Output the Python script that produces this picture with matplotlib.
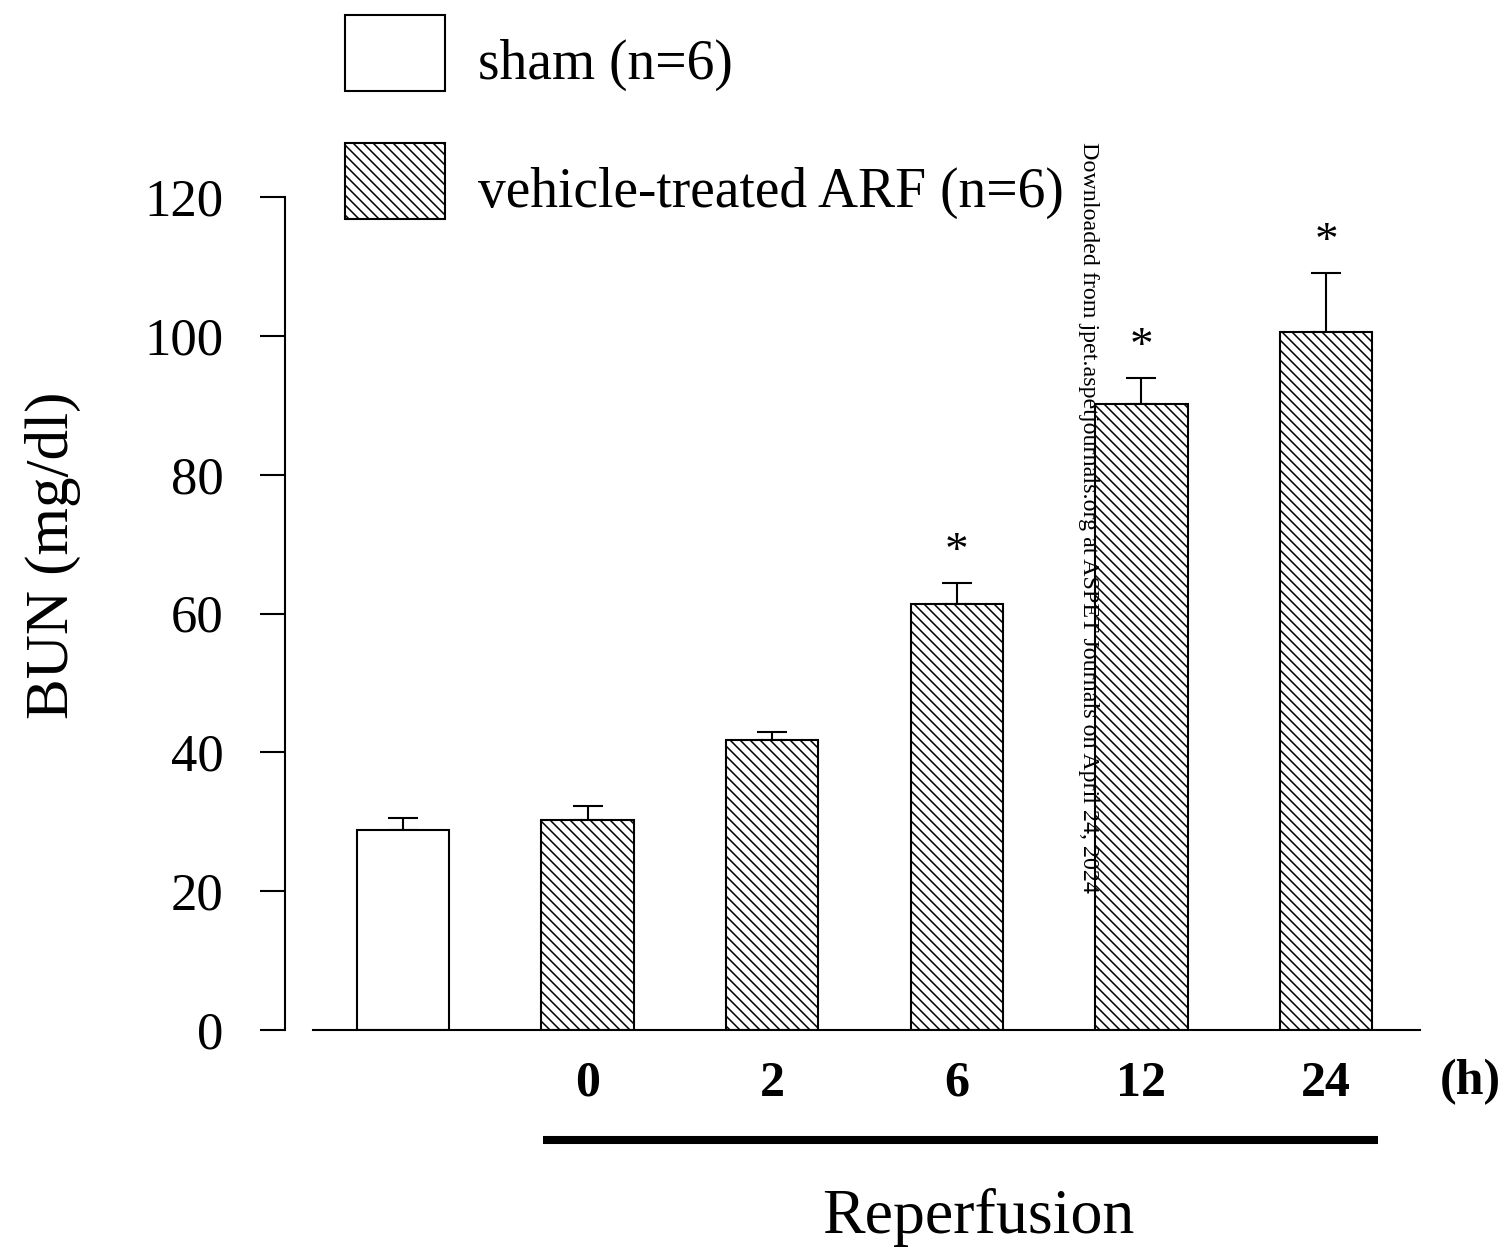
import matplotlib
matplotlib.use("Agg")
import matplotlib.pyplot as plt
import numpy as np
from matplotlib.container import BarContainer
from matplotlib.legend_handler import HandlerPatch
from matplotlib.patches import Rectangle

DPI = 120
K = 100 / DPI  # sizes below were tuned in points at 100 dpi

plt.rcParams['font.family'] = ['Liberation Serif', 'DejaVu Serif']
plt.rcParams['hatch.linewidth'] = 1.1 * K
plt.rcParams['hatch.color'] = 'black'

# ---- data ----
groups = ["sham", "0", "2", "6", "12", "24"]
xtick_labels = ["0", "2", "6", "12", "24"]
bun_mean = [28.8, 30.3, 41.8, 61.4, 90.2, 100.6]
bun_sem = [1.7, 2.0, 1.1, 3.0, 3.7, 8.4]
significant = [False, False, False, True, True, True]
yticks = [0, 20, 40, 60, 80, 100, 120]
legend_labels = ["sham (n=6)", "vehicle-treated ARF (n=6)"]

W, H = 1507, 1252
fig = plt.figure(figsize=(W / DPI, H / DPI), dpi=DPI)
ax = fig.add_axes([313 / W, 1 - 1030 / H, (1420 - 313) / W, (1030 - 197) / H])

x = np.arange(len(groups))
lw = 1.5 * K
b_sham = ax.bar(x[:1], bun_mean[:1], width=0.5, color='white', edgecolor='black',
                linewidth=lw, zorder=2, label=legend_labels[0])
b_arf = ax.bar(x[1:], bun_mean[1:], width=0.5, color='white', edgecolor='black',
               linewidth=lw, hatch='\\\\\\\\', zorder=2, label=legend_labels[1])
ax.errorbar(x, bun_mean, yerr=[np.zeros(len(x)), bun_sem], fmt='none',
            ecolor='black', elinewidth=lw, capsize=10.8 * K, capthick=lw, zorder=1)

for xi, m, s, sig in zip(x, bun_mean, bun_sem, significant):
    if sig:
        ax.annotate('*', xy=(xi, m + s), xytext=(0, 22 * K), textcoords='offset points',
                    ha='center', va='center', fontsize=34 * K, annotation_clip=False)

ax.set_xlim(-0.4875, 5.509)
ax.set_ylim(0, 120)
ax.set_yticks(yticks)
ax.set_yticklabels([str(t) for t in yticks])
ax.tick_params(axis='y', direction='out', length=18 * K, width=lw, pad=26 * K,
               labelsize=38 * K)
ax.set_xticks(x[1:])
ax.set_xticklabels(xtick_labels, fontweight='bold')
ax.tick_params(axis='x', length=0, pad=22 * K, labelsize=36 * K)

for side in ['top', 'right']:
    ax.spines[side].set_visible(False)
ax.spines['left'].set_position(('outward', 20.2 * K))
ax.spines['left'].set_linewidth(lw)
ax.spines['bottom'].set_linewidth(lw)

ax.set_ylabel('BUN (mg/dl)', fontsize=44 * K, va='center')
ax.yaxis.set_label_coords(-0.235, 0.570)

tr = ax.get_xaxis_transform()
ax.text(5.78, -0.0624, '(h)', transform=tr, fontsize=36 * K, fontweight='bold',
        ha='center', va='center')
ax.plot([0.758, 5.282], [-0.132, -0.132], transform=tr, clip_on=False,
        color='black', lw=5.8 * K, solid_capstyle='butt')
ax.text(3.115, -0.2437, 'Reperfusion', transform=tr, fontsize=46 * K,
        ha='center', va='baseline')

# legend box shifted up relative to its label (units: points)
DY = 8 * 72 / DPI


def raised_box(legend, orig_handle, xdescent, ydescent, width, height, fontsize):
    return Rectangle(xy=(-xdescent, -ydescent + DY), width=width, height=height)


def copy_props(legend_handle, orig_handle):
    legend_handle.update_from(orig_handle.patches[0])


fig.legend(handles=[b_sham, b_arf], loc='upper left',
           bbox_to_anchor=(345 / W, 1 - 23 / H), frameon=False, fontsize=40 * K,
           handlelength=1.8, handleheight=1.74, handletextpad=0.6,
           labelspacing=0.92, borderpad=0, borderaxespad=0,
           handler_map={BarContainer: HandlerPatch(patch_func=raised_box,
                                                   update_func=copy_props)})

fig.text(1088 / W, 1 - 142 / H,
         'Downloaded from jpet.aspetjournals.org at ASPET Journals on April 24, 2024',
         rotation=-90, fontsize=17.3 * K, ha='center', va='top')

fig.savefig('out.png', dpi=DPI)
